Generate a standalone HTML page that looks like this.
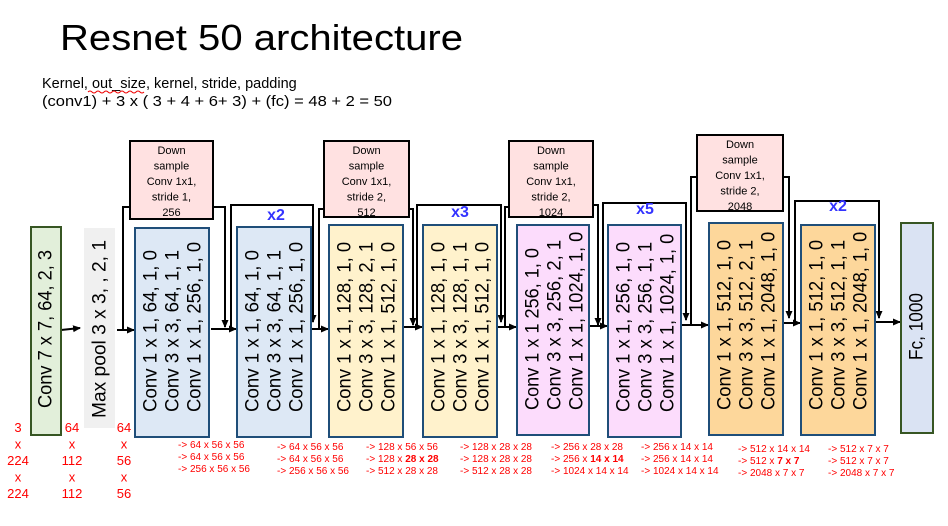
<!DOCTYPE html>
<html><head><meta charset="utf-8"><style>
html,body{margin:0;padding:0;background:#fff;}
svg{display:block;font-family:"Liberation Sans","DejaVu Sans",sans-serif;}
</style></head><body>
<svg id="s" width="948" height="526" viewBox="0 0 948 526" xmlns="http://www.w3.org/2000/svg">
<defs><marker id="ah" markerUnits="userSpaceOnUse" markerWidth="8" markerHeight="8" refX="7" refY="4" orient="auto"><path d="M0,0.5 L8,4 L0,7.5 z" fill="#000"/></marker></defs>
<text x="60" y="50" font-size="36" textLength="403" lengthAdjust="spacingAndGlyphs">Resnet 50 architecture</text>
<text x="42" y="88" font-size="14.5">Kernel, out_size, kernel, stride, padding</text>
<path d="M88,92 q2,-2 4,0 t4,0 t4,0 t4,0 t4,0 t4,0 t4,0 t4,0 t4,0 t4,0 t4,0 t4,0 t4,0 t4,0" fill="none" stroke="#e00" stroke-width="1"/>
<text x="42" y="106" font-size="14.5" textLength="350" lengthAdjust="spacingAndGlyphs">(conv1) + 3 x ( 3 + 4 + 6+ 3) + (fc) = 48 + 2 = 50</text>
<g id="g"></g>
</svg>
<script>
const NS="http://www.w3.org/2000/svg", g=document.getElementById('g');
function mk(t,a,p){const e=document.createElementNS(NS,t);for(const k in a)e.setAttribute(k,a[k]);(p||g).appendChild(e);return e;}
const lines=[
 [[61,330],[80,328],1],[[117,330],[134,330],1],
 [[130,207],[123,207],[123,330]],[[213,207],[225,207],[225,327],1],[[211,329],[236,329],1],
 [[231,329],[231,205],[313,205],[313,322],1],[[311,329],[328,329],1],
 [[324,209],[319,209],[319,330]],[[409,209],[413,209],[413,325],1],[[403,327],[422,327],1],
 [[417,327],[417,205],[501,205],[501,322],1],
 [[509,207],[505,207],[505,327]],[[593,205],[598,205],[598,325],1],[[497,327],[516,327],1],
 [[603,327],[603,203],[686,203],[686,320],1],[[590,326],[607,326],1],
 [[697,177],[691,177],[691,326]],[[783,177],[789,177],[789,318],1],[[681,325],[708,325],1],
 [[795,323],[795,201],[879,201],[879,318],1],[[783,323],[800,323],1],[[875,322],[900,322],1]
];
lines.forEach(l=>{const arrow=typeof l[l.length-1]==='number';const pts=l.filter(p=>Array.isArray(p));
 const e=mk('polyline',{points:pts.map(p=>p.join(',')).join(' '),fill:'none',stroke:'#000','stroke-width':2});
 if(arrow)e.setAttribute('marker-end','url(#ah)');
 
 });
const blocks=[
 [135,228,74,209,'#dde8f5',['Conv 1 x 1, 64, 1, 0','Conv 3 x 3, 64, 1, 1','Conv 1 x 1, 256, 1, 0']],
 [237,227,74,210,'#dde8f5',['Conv 1 x 1, 64, 1, 0','Conv 3 x 3, 64, 1, 1','Conv 1 x 1, 256, 1, 0']],
 [329,225,74,212,'#fff2cc',['Conv 1 x 1, 128, 1, 0','Conv 3 x 3, 128, 2, 1','Conv 1 x 1, 512, 1, 0']],
 [423,225,74,212,'#fff2cc',['Conv 1 x 1, 128, 1, 0','Conv 3 x 3, 128, 1, 1','Conv 1 x 1, 512, 1, 0']],
 [517,225,72,210,'#fcdcfc',['Conv 1 x 1 256, 1, 0','Conv 3 x 3, 256, 2, 1','Conv 1 x 1, 1024, 1, 0']],
 [608,225,73,212,'#fcdcfc',['Conv 1 x 1, 256, 1, 0','Conv 3 x 3, 256, 1, 1','Conv 1 x 1, 1024, 1, 0']],
 [709,223,74,212,'#fdd79b',['Conv 1 x 1, 512, 1, 0','Conv 3 x 3, 512, 2, 1','Conv 1 x 1, 2048, 1, 0']],
 [801,225,74,210,'#fdd79b',['Conv 1 x 1, 512, 1, 0','Conv 3 x 3, 512, 1, 1','Conv 1 x 1, 2048, 1, 0']]
];
blocks.forEach((b,i)=>{const r=mk('rect',{x:b[0],y:b[1],width:b[2],height:b[3],fill:b[4],stroke:'#1f4e79','stroke-width':2});
 
 
 b[5].forEach((s,j)=>{const len=s.length*8.1;const t=mk('text',{transform:`translate(${b[0]+16+j*22},${b[1]+b[3]-25}) rotate(-90)`,'font-size':19,'dominant-baseline':'central',textLength:len,lengthAdjust:'spacingAndGlyphs'});t.textContent=s;
 
 });});
const r1=mk('rect',{x:31,y:227,width:30,height:208,fill:'#e2efda',stroke:'#375623','stroke-width':2});


const r2=mk('rect',{x:84,y:228,width:31,height:200,fill:'#f0f0f0'});


const r3=mk('rect',{x:901,y:223,width:32,height:210,fill:'#dae3f3',stroke:'#375623','stroke-width':2});


[[46,408,'Conv 7 x 7, 64, 2, 3',158],[100,418,'Max pool 3 x 3,  , 2, 1',178],[917,360,'Fc, 1000',67]].forEach(a=>{
 const t=mk('text',{transform:`translate(${a[0]},${a[1]}) rotate(-90)`,'font-size':19,'dominant-baseline':'central',textLength:a[3],lengthAdjust:'spacingAndGlyphs'});t.textContent=a[2];
 
 });
const ds=[[130,141,83,78,'1','256'],[324,141,85,76,'2','512'],[509,141,84,76,'2','1024'],[697,135,86,76,'2','2048']];
ds.forEach(d=>{const r=mk('rect',{x:d[0],y:d[1],width:d[2],height:d[3],fill:'#ffe1e1',stroke:'#000','stroke-width':2});
 
 
 ['Down','sample','Conv 1x1,','stride '+d[4]+',',d[5]].forEach((s,j)=>{const t=mk('text',{x:d[0]+d[2]/2,y:d[1]+13+j*15.5,'font-size':11,'text-anchor':'middle'});t.textContent=s;
 
 });});
[[276,220,'x2'],[460,217,'x3'],[645,214,'x5'],[838,211,'x2']].forEach(a=>{const t=mk('text',{x:a[0],y:a[1],'font-size':16,'font-weight':'bold',fill:'#3333ff','text-anchor':'middle'});t.textContent=a[2];
 
 });
[[18,['3','x','224','x','224']],[72,['64','x','112','x','112']],[124,['64','x','56','x','56']]].forEach(c=>{
 c[1].forEach((s,j)=>{const t=mk('text',{x:c[0],y:432+j*16.5,'font-size':13,fill:'#ff0000','text-anchor':'middle'});t.textContent=s;
 
 });});
const outs=[
 [178,448,['64 x 56 x 56','64 x 56 x 56','256 x 56 x 56']],
 [277,450,['64 x 56 x 56','64 x 56 x 56','256 x 56 x 56']],
 [366,450,['128 x 56 x 56','128 x <b>28 x 28</b>','512 x 28 x 28']],
 [460,450,['128 x 28 x 28','128 x 28 x 28','512 x 28 x 28']],
 [551,450,['256 x 28 x 28','256 x <b>14 x 14</b>','1024 x 14 x 14']],
 [641,450,['256 x 14 x 14','256 x 14 x 14','1024 x 14 x 14']],
 [738,452,['512 x 14 x 14','512 x <b>7 x 7</b>','2048 x 7 x 7']],
 [828,452,['512 x 7 x 7','512 x 7 x 7','2048 x 7 x 7']]
];
outs.forEach(o=>o[2].forEach((s,j)=>{const t=mk('text',{x:o[0],y:o[1]+j*12,'font-size':10,fill:'#ff0000'});
 const parts=('-> '+s).split(/<b>|<\/b>/);
 parts.forEach((p,k)=>{const ts=mk('tspan',{},t);if(k===1)ts.setAttribute('font-weight','bold');ts.textContent=p;});
 
 }));
</script>
</body></html>
